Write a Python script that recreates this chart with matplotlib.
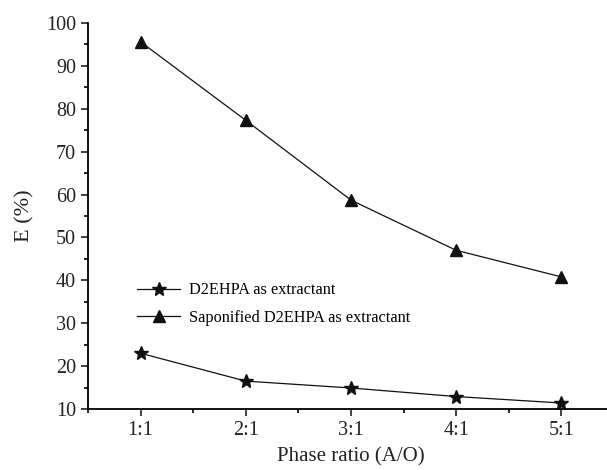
import numpy as np
import matplotlib.pyplot as plt
from matplotlib.ticker import MultipleLocator

ratios = ['1:1', '2:1', '3:1', '4:1', '5:1']
d2ehpa = [23.0, 16.5, 14.9, 12.9, 11.4]
sapon = [95.6, 77.3, 58.7, 47.0, 40.8]

plt.rcParams['font.family'] = ['Liberation Serif', 'DejaVu Serif']

fig = plt.figure(figsize=(6.07, 4.70), dpi=100)
ax = fig.add_axes([88/607, 61/470, 526/607, 386/470])

x = np.arange(1, len(ratios) + 1)
ax.plot(x, d2ehpa, color='#111111', lw=0.9, marker='*', ms=10,
        label='D2EHPA as extractant')
ax.plot(x, sapon, color='#111111', lw=0.9, marker='^', ms=8,
        label='Saponified D2EHPA as extractant')

ax.set_xlim(0.5, 5.5)
ax.set_ylim(10, 100)
ax.set_xticks(x)
ax.set_xticklabels(ratios)
ax.xaxis.set_minor_locator(MultipleLocator(0.5))
ax.yaxis.set_major_locator(MultipleLocator(10))
ax.yaxis.set_minor_locator(MultipleLocator(5))
ax.tick_params(which='major', direction='out', length=5, width=1.2, labelsize=14.5, colors='#222222')
ax.tick_params(which='minor', direction='out', length=3, width=1.2)
for s in ['top', 'right']:
    ax.spines[s].set_visible(False)
for s in ['left', 'bottom']:
    ax.spines[s].set_linewidth(1.3)

ax.set_xlabel('Phase ratio (A/O)', fontsize=15, color='#222222', labelpad=5)
ax.set_ylabel('E (%)', fontsize=16, color='#222222', labelpad=8)

ax.legend(loc='upper left', bbox_to_anchor=(0.08, 0.345), frameon=False,
          fontsize=11.7, handlelength=2.7, handletextpad=0.5, labelspacing=0.7,
          borderaxespad=0)

fig.savefig('out.png', dpi=100)
